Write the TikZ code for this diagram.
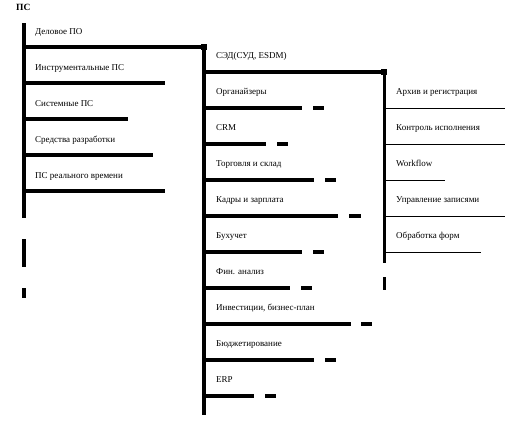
\documentclass[tikz,border=0pt]{standalone}
\usepackage{fontspec}
\setmainfont{Liberation Serif}
\begin{document}
\begin{tikzpicture}[x=1pt,y=-1pt,
  lbl/.style={anchor=base west,inner sep=0pt,font=\fontsize{9}{11}\selectfont},
  heavy/.style={line width=4.5pt},
  medium/.style={line width=4pt},
  rvert/.style={line width=3pt},
  thin/.style={line width=1pt},
  junction/.style={fill=black,inner sep=0pt,minimum size=6pt,rectangle}]
\useasboundingbox (0,0) rectangle (529,445);
% title
\node[lbl,font=\bfseries\fontsize{9.5}{11}\selectfont] (title) at (16,10) {ПС};
% left column
\coordinate (L0) at (24,23);
\draw[heavy] (L0) -- (24,218);
\draw[heavy] (24,239) -- (24,267);
\draw[heavy] (24,288) -- (24,298);
\node[lbl] (l1) at (35,34) {Деловое ПО};
\node[lbl] (l2) at (35,70) {Инструментальные ПС};
\node[lbl] (l3) at (35,106) {Системные ПС};
\node[lbl] (l4) at (35,142) {Средства разработки};
\node[lbl] (l5) at (35,178) {ПС реального времени};
\node[junction] (J1) at (204,47) {};
\draw[medium] (24,47) -- (J1.center);
\draw[medium] (24,83) -- (165,83);
\draw[medium] (24,119) -- (128,119);
\draw[medium] (24,155) -- (153,155);
\draw[medium] (24,191) -- (165,191);
% middle column
\draw[heavy] (J1.center) -- (204,415);
\node[lbl] (m0) at (216,58) {СЭД(СУД, ESDM)};
\node[junction] (J2) at (384,72) {};
\draw[medium] (204,72) -- (J2.center);
\node[lbl] (m1) at (216,94) {Органайзеры};
\node[lbl] (m2) at (216,130) {CRM};
\node[lbl] (m3) at (216,166) {Торговля и склад};
\node[lbl] (m4) at (216,202) {Кадры и зарплата};
\node[lbl] (m5) at (216,238) {Бухучет};
\node[lbl] (m6) at (216,274) {Фин. анализ};
\node[lbl] (m7) at (216,310) {Инвестиции, бизнес-план};
\node[lbl] (m8) at (216,346) {Бюджетирование};
\node[lbl] (m9) at (216,382) {ERP};
\foreach \y/\a/\b/\c in {108/302/313/324, 144/266/277/288, 180/314/325/336,
  216/338/349/361, 252/302/313/324, 288/290/301/312, 324/351/361/372,
  360/314/325/336, 396/254/265/276}{
  \draw[medium] (204,\y) -- (\a,\y);
  \draw[medium] (\b,\y) -- (\c,\y);
}
% right column
\draw[rvert] (J2.center) -- (384,263);
\draw[rvert] (384,277) -- (384,290);
\node[lbl] (r1) at (396,94) {Архив и регистрация};
\node[lbl] (r2) at (396,130) {Контроль исполнения};
\node[lbl] (r3) at (396,166) {Workflow};
\node[lbl] (r4) at (396,202) {Управление записями};
\node[lbl] (r5) at (396,238) {Обработка форм};
\draw[thin] (384,108) -- (505,108);
\draw[thin] (384,144) -- (505,144);
\draw[thin] (384,180) -- (445,180);
\draw[thin] (384,216) -- (505,216);
\draw[thin] (384,252) -- (481,252);
\end{tikzpicture}
\end{document}
